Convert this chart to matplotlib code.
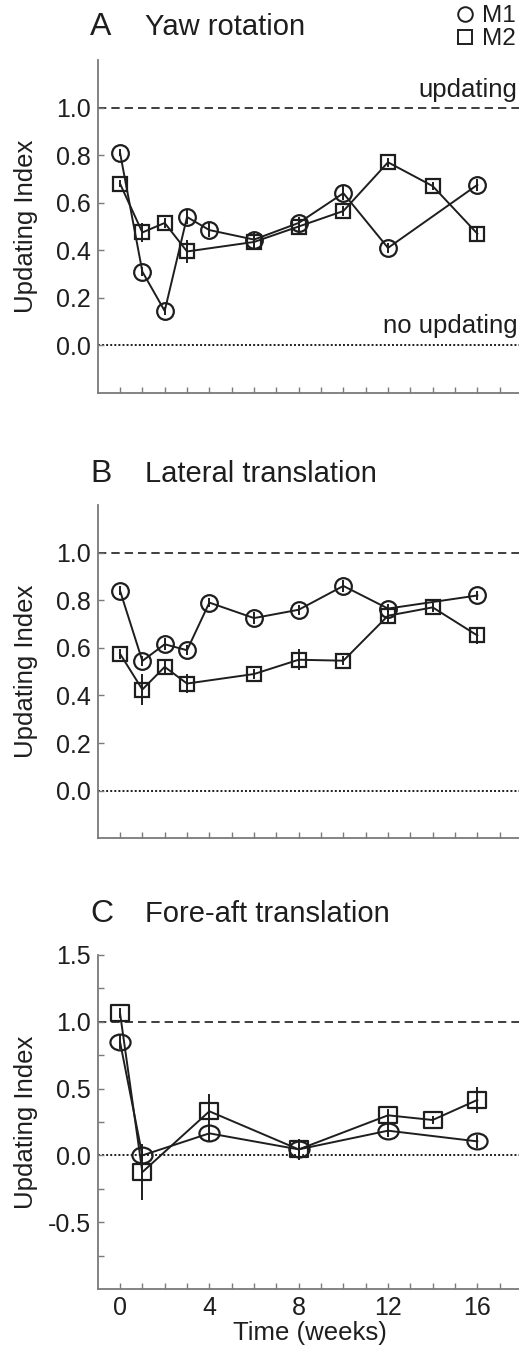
import numpy as np
import matplotlib
matplotlib.use("Agg")
import matplotlib.pyplot as plt
from matplotlib.path import Path
from matplotlib.transforms import Affine2D
from matplotlib.lines import Line2D

plt.rcParams['font.family'] = ['Liberation Sans', 'DejaVu Sans']
plt.rcParams['axes.unicode_minus'] = False

# ---- data ----
# A: yaw rotation
weeks_A_m1 = [0, 1, 2, 3, 4, 6, 8, 10, 12, 16]
m1_A = [0.81, 0.31, 0.145, 0.54, 0.485, 0.445, 0.515, 0.64, 0.41, 0.675]
m1_A_err = [0.015, 0.02, 0.015, 0.03, 0.03, 0.03, 0.025, 0.03, 0.02, 0.025]
weeks_A_m2 = [0, 1, 2, 3, 6, 8, 10, 12, 14, 16]
m2_A = [0.68, 0.475, 0.515, 0.395, 0.435, 0.50, 0.565, 0.77, 0.67, 0.47]
m2_A_err = [0.015, 0.04, 0.02, 0.05, 0.035, 0.035, 0.02, 0.02, 0.015, 0.03]

# B: lateral translation
weeks_B_m1 = [0, 1, 2, 3, 4, 6, 8, 10, 12, 16]
m1_B = [0.84, 0.545, 0.615, 0.59, 0.79, 0.725, 0.76, 0.86, 0.765, 0.82]
m1_B_err = [0.02, 0.02, 0.025, 0.02, 0.02, 0.025, 0.02, 0.025, 0.02, 0.02]
weeks_B_m2 = [0, 1, 2, 3, 6, 8, 10, 12, 14, 16]
m2_B = [0.575, 0.425, 0.52, 0.45, 0.49, 0.55, 0.546, 0.735, 0.77, 0.652]
m2_B_err = [0.02, 0.065, 0.03, 0.04, 0.02, 0.045, 0.02, 0.03, 0.02, 0.035]

# C: fore-aft translation
weeks_C_m1 = [0, 1, 4, 8, 12, 16]
m1_C = [0.85, 0.0, 0.165, 0.045, 0.185, 0.105]
m1_C_err = [0.05, 0.04, 0.06, 0.04, 0.05, 0.05]
weeks_C_m2 = [0, 1, 4, 8, 12, 14, 16]
m2_C = [1.065, -0.125, 0.33, 0.045, 0.30, 0.265, 0.415]
m2_C_err = [0.04, 0.21, 0.13, 0.08, 0.05, 0.03, 0.10]

panel_letters = ['A', 'B', 'C']
panel_titles = ['Yaw rotation', 'Lateral translation', 'Fore-aft translation']

W, H = 519, 1351
fig = plt.figure(figsize=(W / 100, H / 100), dpi=100)

ink = '#1e1e1e'
spine_col = '#7a7a7a'

# stretched markers for panel C
ell = Path.unit_circle().transformed(Affine2D().scale(1.27, 1.0))
rect = Path([(-1.18, -1), (1.18, -1), (1.18, 1), (-1.18, 1), (-1.18, -1)],
            [Path.MOVETO, Path.LINETO, Path.LINETO, Path.LINETO, Path.CLOSEPOLY])

# axes boxes in pixels: (top, bottom)
boxes = [(60, 393), (505, 838.3), (955, 1289)]
x_left, x_right = 97.7, 522
title_base = [35, 481.7, 921.7]

series = [
    (weeks_A_m1, m1_A, m1_A_err, weeks_A_m2, m2_A, m2_A_err),
    (weeks_B_m1, m1_B, m1_B_err, weeks_B_m2, m2_B, m2_B_err),
    (weeks_C_m1, m1_C, m1_C_err, weeks_C_m2, m2_C, m2_C_err),
]

for i, (top, bot) in enumerate(boxes):
    ax = fig.add_axes([x_left / W, 1 - bot / H, (x_right - x_left) / W, (bot - top) / H])
    w1, y1, e1, w2, y2, e2 = series[i]

    if i < 2:
        mk1, ms1 = 'o', 12.0
        mk2, ms2 = 's', 10.2
    else:
        mk1, ms1 = ell, 14.5
        mk2, ms2 = rect, 12.8

    ax.axhline(1.0, color=ink, lw=1.2, dashes=(5.0, 3.0), zorder=1)
    ax.axhline(0.0, color=ink, lw=1.4, ls=(0, (1, 1.1)), zorder=1)

    ax.errorbar(w1, y1, yerr=e1, color=ink, lw=1.4, elinewidth=1.4, capsize=0,
                marker=mk1, ms=ms1, mfc='none', mec=ink, mew=1.6, zorder=3)
    ax.errorbar(w2, y2, yerr=e2, color=ink, lw=1.4, elinewidth=1.4, capsize=0,
                marker=mk2, ms=ms2, mfc='none', mec=ink, mew=1.6, zorder=3)

    ax.set_xlim(-1, 18)
    ax.set_xticks(np.arange(0, 18))
    if i < 2:
        ax.set_ylim(-0.2, 1.2)
        ax.set_yticks(np.arange(0, 1.01, 0.2))
        ax.set_yticklabels(['%.1f' % v for v in np.arange(0, 1.01, 0.2)])
        ax.set_xticklabels([])
    else:
        ax.set_ylim(-1.0, 1.5)
        yt = np.arange(-0.75, 1.51, 0.25)
        ax.set_yticks(yt)
        ax.set_yticklabels(['%.1f' % v if abs(v * 2 - round(v * 2)) < 1e-6 else '' for v in yt])
        ax.set_xticklabels([str(w) if w % 4 == 0 else '' for w in range(18)])
        ax.set_xlabel('Time (weeks)', fontsize=18.5, color=ink, labelpad=1)

    for s in ['top', 'right']:
        ax.spines[s].set_visible(False)
    for s in ['left', 'bottom']:
        ax.spines[s].set_color(spine_col)
        ax.spines[s].set_linewidth(1.3)
    ax.tick_params(direction='in', length=4, width=1.0, color=spine_col,
                   labelsize=18, labelcolor=ink)
    ax.tick_params(axis='y', pad=5)
    ax.tick_params(axis='x', pad=5)

    ax.set_ylabel('Updating Index', fontsize=18.5, color=ink)
    ax.yaxis.set_label_coords(-0.14, 0.5)

    fig.text(90 / W, 1 - title_base[i] / H, panel_letters[i], fontsize=23,
             color=ink, va='baseline', ha='left')
    fig.text(145 / W, 1 - title_base[i] / H, panel_titles[i], fontsize=21,
             color=ink, va='baseline', ha='left')

    if i == 0:
        ax.text(17.8, 1.044, 'updating', fontsize=18.5, color=ink,
                ha='right', va='baseline')
        ax.text(17.8, 0.052, 'no updating', fontsize=18.5, color=ink,
                ha='right', va='baseline')

# legend at top right
h1 = Line2D([], [], ls='none', marker='o', ms=10.5, mfc='none', mec=ink, mew=1.4)
h2 = Line2D([], [], ls='none', marker='s', ms=9.5, mfc='none', mec=ink, mew=1.4)
fig.legend([h1, h2], ['M1', 'M2'], loc='upper right',
           bbox_to_anchor=(1.0 - 3 / W, 1 - 5 / H), frameon=False, fontsize=17.5,
           handlelength=0.7, handletextpad=0.35, labelspacing=0.05,
           borderpad=0, borderaxespad=0, labelcolor=ink)

fig.savefig('out.png', dpi=100)
